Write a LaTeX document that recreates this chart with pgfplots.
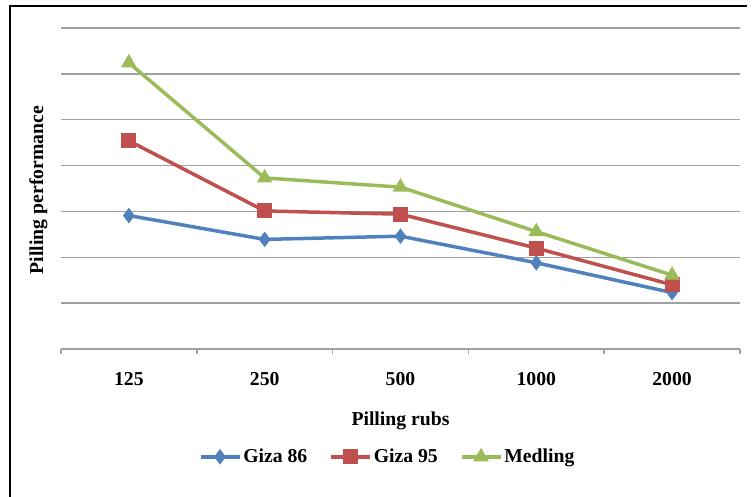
\documentclass[border=0pt]{standalone}
\usepackage{fontspec}
\setmainfont{Liberation Serif}
\usepackage{pgfplots}
\pgfplotsset{compat=1.18}
\definecolor{cblue}{HTML}{4F81BD}
\definecolor{cred}{HTML}{C0504D}
\definecolor{cgreen}{HTML}{9BBB59}
\definecolor{gridgray}{HTML}{A0A0A0}
\newcommand{\lblfont}{\bfseries\fontsize{9.85}{12}\selectfont}
\begin{document}
\begin{tikzpicture}
\useasboundingbox (0,0) rectangle (376pt,248.5pt);
\draw[black, line width=1pt] (4.5pt,245.5pt) -- (373.5pt,245.5pt);
\draw[black, line width=1pt] (5pt,0pt) -- (5pt,246pt);
\begin{axis}[
  at={(30.5pt,74pt)}, anchor=south west,
  scale only axis, width=339.5pt, height=160.5pt,
  xmin=-0.5, xmax=4.5, ymin=0, ymax=7,
  axis x line=bottom, axis y line=left,
  x axis line style={-, draw=gridgray, line width=0.75pt},
  y axis line style={draw=none},
  ytick={1,...,7}, yticklabels={}, ytick style={draw=none},
  ymajorgrids, major grid style={draw=gridgray, line width=0.75pt},
  xtick={0,...,4}, xticklabels={125,250,500,1000,2000},
  major tick length=0pt, tick align=outside,
  extra x ticks={-0.5,0.5,1.5,2.5,3.5,4.5}, extra x tick labels={},
  extra x tick style={major tick length=2.5pt, tick style={draw=gridgray, line width=0.75pt}, xmajorgrids=false},
  xticklabel style={font=\lblfont, anchor=base, yshift=-18.35pt},
  xlabel={Pilling rubs},
  xlabel style={at={(axis description cs:0.5,-0.2368)}, anchor=base, font=\lblfont},
  ylabel={Pilling performance},
  ylabel style={at={(axis description cs:-0.0265,0.495)}, anchor=base, font=\lblfont},
  legend columns=3,
  legend style={at={(axis description cs:0.481,-0.336)}, anchor=center, draw=none, fill=none, font=\lblfont,
    nodes={inner sep=1pt},
    /tikz/every even column/.append style={column sep=10pt}},
  legend image code/.code={\draw[mark repeat=2,mark phase=2] plot coordinates {(0pt,0pt)(9.75pt,0pt)(19.5pt,0pt)};},
]
\addplot[cblue, line width=1.75pt, mark=diamond*, mark size=3.5pt, mark options={fill=cblue, line width=0.5pt}]
  coordinates {(0,2.91)(1,2.39)(2,2.46)(3,1.88)(4,1.23)};
\addlegendentry{Giza 86}
\addplot[cred, line width=1.75pt, mark=square*, mark size=3.5pt, mark options={fill=cred, line width=0.5pt}]
  coordinates {(0,4.54)(1,3.01)(2,2.94)(3,2.20)(4,1.40)};
\addlegendentry{Giza 95}
\addplot[cgreen, line width=1.75pt, mark=triangle*, mark size=4pt, mark options={fill=cgreen, line width=0.5pt}]
  coordinates {(0,6.24)(1,3.73)(2,3.53)(3,2.56)(4,1.61)};
\addlegendentry{Medling}
\end{axis}
\end{tikzpicture}
\end{document}
